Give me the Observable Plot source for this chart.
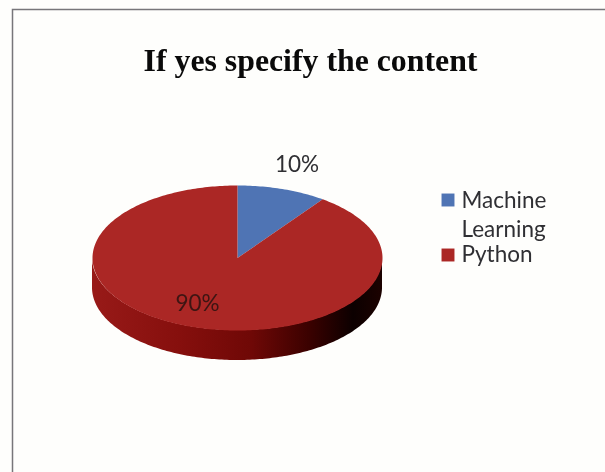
<!DOCTYPE html>
<html>
<head>
<meta charset="utf-8">
<script src="https://cdn.jsdelivr.net/npm/d3@7"></script>
<script src="https://cdn.jsdelivr.net/npm/@observablehq/plot@0.6"></script>
<style>
html,body{margin:0;padding:0;background:#fefefc;overflow:hidden}
svg{display:block;filter:blur(0.45px)}
</style>
</head>
<body>
<div id="chart"></div>
<script>
const titleText = "If yes specify the content";
const categories = ["Machine Learning", "Python"];
const values = [10, 90];
const valueLabels = ["10%", "90%"];
const sliceColors = ["#4f74b4", "#ab2725"];

const depth = 30 / 72.5;
const startDeg = d3.cumsum([0, ...values]).map(v => v * 3.6);
const pt = (deg, lift = 0) => {
  const t = deg * Math.PI / 180;
  return {x: Math.sin(t), y: Math.cos(t), y2: Math.cos(t) - lift};
};
const slices = categories.flatMap((c, i) => {
  const pts = [{x: 0, y: 0, c}];
  for (let a = startDeg[i]; a <= startDeg[i + 1]; a += 1) pts.push({...pt(a), c});
  pts.push({x: 0, y: 0, c});
  return pts;
});
const wall = d3.range(90, 271).map(a => pt(a, depth));

const font = "Lato, 'Open Sans', sans-serif";
const ink = "#2f2f33";
const labelSize = 22.5;
const gradient = () => {
  const ns = "http://www.w3.org/2000/svg";
  const defs = document.createElementNS(ns, "defs");
  const g = document.createElementNS(ns, "linearGradient");
  g.setAttribute("id", "wallShade");
  [[0, "#981a18"], [0.3, "#860f0d"], [0.55, "#6f0806"], [0.75, "#3a0100"], [0.9, "#0c0000"], [1, "#1c0200"]].forEach(([o, col]) => {
    const s = document.createElementNS(ns, "stop");
    s.setAttribute("offset", o);
    s.setAttribute("stop-color", col);
    g.appendChild(s);
  });
  defs.appendChild(g);
  return defs;
};
const legendText = (text, dx, dy) => Plot.text([text], {
  frameAnchor: "top-left", dx, dy, textAnchor: "start", lineAnchor: "middle",
  fontSize: labelSize, fontFamily: font, fill: ink
});
const swatch = (i, dx, dy) => Plot.dot([categories[i]], {
  frameAnchor: "top-left", dx, dy, symbol: "square", r: 7.3, fill: d => d, stroke: "none"
});

const chart = Plot.plot({
  width: 605,
  height: 472,
  margin: 0,
  x: {domain: [-1, 1], range: [92, 382], axis: null},
  y: {domain: [-1, 1], range: [330, 185], axis: null},
  color: {domain: categories, range: sliceColors},
  style: {background: "transparent", overflow: "hidden"},
  marks: [
    gradient,
    Plot.frame({insetLeft: 12, insetTop: 9, insetRight: -6, insetBottom: -6, stroke: "#77767a", strokeWidth: 1.5}),
    Plot.areaY(wall, {x: "x", y1: "y", y2: "y2", fill: "url(#wallShade)"}),
    Plot.line(slices, {x: "x", y: "y", z: "c", fill: "c", stroke: null}),
    Plot.text([valueLabels[0]], {x: () => 0.41, y: () => 1.28, fontSize: labelSize, fontFamily: font, fill: ink}),
    Plot.text([valueLabels[1]], {x: () => -0.276, y: () => -0.63, fontSize: labelSize, fontFamily: font, fill: "#3d1513"}),
    Plot.text([titleText], {
      frameAnchor: "top-left", dx: 310, dy: 60, textAnchor: "middle", lineAnchor: "middle",
      fontSize: 31.8, fontWeight: "bold", fontFamily: "'Liberation Serif', serif", fill: "#0a0a0a"
    }),
    swatch(0, 447.5, 199.5),
    swatch(1, 447.5, 254.5),
    legendText("Machine", 461, 200),
    legendText("Learning", 461, 229),
    legendText("Python", 461, 254)
  ]
});
document.getElementById("chart").appendChild(chart);
</script>
</body>
</html>
